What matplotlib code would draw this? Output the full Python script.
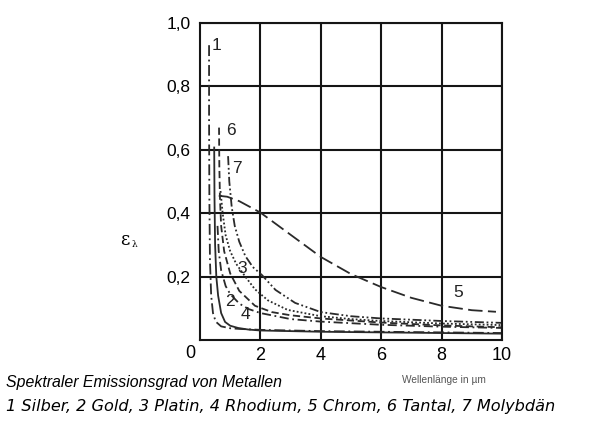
import matplotlib
matplotlib.use("Agg")
import matplotlib.pyplot as plt
from matplotlib.transforms import blended_transform_factory

# ---- data ----
silber_x = [0.30, 0.30, 0.31, 0.33, 0.37, 0.43, 0.52, 0.70, 1.0, 1.3, 2.0, 4.0, 6.0, 8.0, 10.0]
silber_y = [0.93, 0.70, 0.45, 0.25, 0.14, 0.085, 0.058, 0.043, 0.037, 0.035, 0.032, 0.028, 0.026, 0.024, 0.022]

gold_x = [0.47, 0.48, 0.50, 0.54, 0.60, 0.70, 0.83, 1.0, 1.26, 1.6, 2.0, 4.0, 6.0, 8.0, 10.0]
gold_y = [0.61, 0.45, 0.30, 0.20, 0.14, 0.085, 0.057, 0.045, 0.038, 0.033, 0.030, 0.026, 0.024, 0.022, 0.020]

platin_x = [0.68, 0.75, 0.85, 1.0, 1.2, 1.5, 1.82, 2.25, 2.9, 4.0, 5.0, 6.0, 8.0, 10.0]
platin_y = [0.47, 0.40, 0.33, 0.28, 0.24, 0.20, 0.16, 0.125, 0.095, 0.075, 0.066, 0.060, 0.052, 0.047]

rhodium_x = [0.58, 0.62, 0.70, 0.85, 1.0, 1.3, 1.6, 2.0, 3.0, 4.0, 6.0, 8.0, 10.0]
rhodium_y = [0.36, 0.28, 0.22, 0.17, 0.145, 0.115, 0.098, 0.085, 0.066, 0.058, 0.048, 0.042, 0.038]

chrom_x = [0.62, 0.9, 1.3, 2.0, 3.0, 4.0, 5.0, 6.0, 7.0, 8.0, 9.0, 9.8]
chrom_y = [0.455, 0.452, 0.438, 0.402, 0.332, 0.262, 0.208, 0.167, 0.133, 0.108, 0.094, 0.089]

tantal_x = [0.63, 0.64, 0.66, 0.70, 0.80, 1.0, 1.3, 1.82, 2.38, 3.0, 4.0, 6.0, 8.0, 10.0]
tantal_y = [0.67, 0.55, 0.45, 0.36, 0.28, 0.21, 0.155, 0.108, 0.088, 0.078, 0.068, 0.055, 0.046, 0.040]

molybdaen_x = [0.93, 0.97, 1.05, 1.15, 1.3, 1.5, 1.75, 2.05, 2.5, 3.15, 4.0, 5.0, 6.0, 8.0, 10.0]
molybdaen_y = [0.58, 0.50, 0.42, 0.36, 0.31, 0.265, 0.23, 0.205, 0.158, 0.117, 0.088, 0.075, 0.068, 0.060, 0.054]

curve_labels = ["1", "2", "3", "4", "5", "6", "7"]
label_x = [0.55, 1.0, 1.38, 1.50, 8.55, 1.02, 1.22]
label_y = [0.93, 0.12, 0.225, 0.082, 0.15, 0.66, 0.54]

x_ticks = [2, 4, 6, 8, 10]
y_ticks = [0.2, 0.4, 0.6, 0.8, 1.0]
y_ticklabels = ["0,2", "0,4", "0,6", "0,8", "1,0"]

caption1 = "Spektraler Emissionsgrad von Metallen"
caption2 = "1 Silber, 2 Gold, 3 Platin, 4 Rhodium, 5 Chrom, 6 Tantal, 7 Molybdän"
xlabel = "Wellenlänge in µm"

plt.rcParams['font.family'] = ['Liberation Sans', 'DejaVu Sans']

fig = plt.figure(figsize=(5.92, 4.21), dpi=100)
ax = fig.add_axes([200/592, 1 - 340/421, 302/592, 317/421])
ax.set_xlim(0, 10)
ax.set_ylim(0, 1.0)

lc = '#2a2a2a'
lw = 1.3
series = [
    (silber_x, silber_y, (0, (6, 2, 1, 2))),
    (gold_x, gold_y, '-'),
    (platin_x, platin_y, (0, (1, 1.2))),
    (rhodium_x, rhodium_y, (0, (5, 2, 1, 2))),
    (chrom_x, chrom_y, (0, (8, 3))),
    (tantal_x, tantal_y, (0, (4, 2))),
    (molybdaen_x, molybdaen_y, (0, (5, 1.5, 1, 1.5, 1, 1.5))),
]
for xs, ys, ls in series:
    ax.plot(xs, ys, color=lc, lw=lw, linestyle=ls, solid_capstyle='butt', dash_capstyle='butt')

for t, x, y in zip(curve_labels, label_x, label_y):
    ax.text(x, y, t, fontsize=12.5, color='#222222', ha='center', va='center')

ax.set_xticks(x_ticks)
ax.set_xticklabels([str(v) for v in x_ticks], fontsize=13)
ax.set_yticks(y_ticks)
ax.set_yticklabels(y_ticklabels, fontsize=12.5)
ax.tick_params(axis='x', length=0, pad=5)
ax.tick_params(axis='y', length=0, pad=7)
ax.grid(True, color='#151515', lw=1.5)
for s in ax.spines.values():
    s.set_color('#151515')
    s.set_linewidth(1.5)

# origin label "0"
trans = blended_transform_factory(ax.transData, ax.transAxes)
ax.text(-0.33, -0.016, "0", transform=trans, fontsize=13, ha='center', va='top')

# y label
fig.text(125/592, 1 - 240/421, 'ε', fontsize=13, family='DejaVu Serif', ha='center', va='center')
fig.text(134/592, 1 - 244/421, 'λ', fontsize=6.5, family='DejaVu Serif', ha='center', va='center')

# x label
fig.text(444/592, 1 - 380/421, xlabel, fontsize=7.3, color='#555555', ha='center', va='center')

fig.text(6/592, 1 - 383/421, caption1, fontsize=11.4, style='italic', ha='left', va='center')
fig.text(6/592, 1 - 406/421, caption2, fontsize=11.6, style='italic', family='DejaVu Sans',
         ha='left', va='center')

fig.savefig("out.png", dpi=100, facecolor='white')
